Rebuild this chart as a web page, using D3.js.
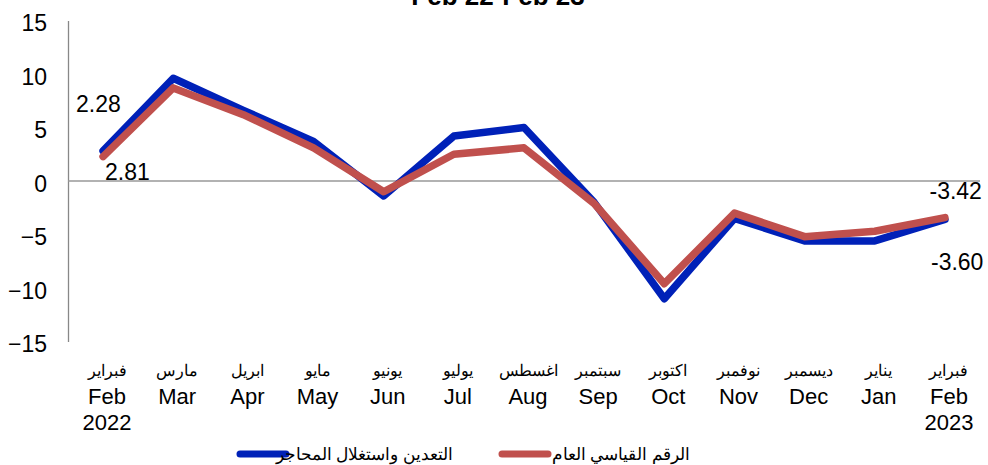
<!DOCTYPE html>
<html>
<head>
<meta charset="utf-8">
<script src="https://cdn.jsdelivr.net/npm/d3@7"></script>
<style>
  body { margin: 0; background: #fff; }
  text { font-family: "Liberation Sans", Arial, sans-serif; fill: #000; }
</style>
</head>
<body>
<div id="chart"></div>
<script>
const width = 988;
const height = 465;

// data
const monthsAr = ["فبراير", "مارس", "ابريل", "مايو", "يونيو", "يوليو", "اغسطس", "سبتمبر", "اكتوبر", "نوفمبر", "ديسمبر", "يناير", "فبراير"];
const monthsEn = ["Feb", "Mar", "Apr", "May", "Jun", "Jul", "Aug", "Sep", "Oct", "Nov", "Dec", "Jan", "Feb"];
const years = ["2022", "", "", "", "", "", "", "", "", "", "", "", "2023"];
const mining = [2.81, 9.6, 6.6, 3.7, -1.4, 4.2, 5.0, -2.0, -11.0, -3.5, -5.6, -5.6, -3.60];
const general = [2.28, 8.7, 6.2, 3.1, -1.0, 2.5, 3.1, -2.1, -9.6, -3.0, -5.2, -4.7, -3.42];
const yTicks = [15, 10, 5, 0, -5, -10, -15];
const seriesNames = ["التعدين واستغلال المحاجر", "الرقم القياسي العام"];

const blue = "#0021B8";
const red = "#C0504D";

const svg = d3.select("#chart")
  .append("svg")
  .attr("width", width)
  .attr("height", height);

const x = d3.scaleBand()
  .domain(d3.range(monthsEn.length))
  .range([68, 980]);

const y = d3.scaleLinear()
  .domain([-15, 15])
  .range([341.5, 20.5]);

// title (cut off at top like the original)
svg.append("text")
  .attr("x", 498)
  .attr("y", 5)
  .attr("text-anchor", "middle")
  .style("font-weight", "bold")
  .style("font-size", "26px")
  .text("Feb 22-Feb 23");

// y axis
svg.append("g")
  .attr("transform", "translate(68,0)")
  .call(d3.axisLeft(y).tickValues(yTicks).tickSize(0).tickPadding(21).tickFormat(d3.format("d")))
  .call(g => g.select(".domain").attr("stroke", "#888").attr("stroke-width", 1.3))
  .call(g => g.selectAll("text").style("font-size", "23px").attr("dy", "0.45em")
    .style("font-family", "'Liberation Sans', Arial, sans-serif"));

// zero line
svg.append("line")
  .attr("x1", 68)
  .attr("x2", 980)
  .attr("y1", y(0))
  .attr("y2", y(0))
  .attr("stroke", "#999")
  .attr("stroke-width", 1.3);

// x labels
const xl = svg.append("g").selectAll("g")
  .data(monthsEn)
  .join("g")
  .attr("transform", (d, i) => `translate(${x(i) + x.bandwidth() / 2 + 4},0)`);

xl.append("text")
  .attr("y", 376)
  .attr("text-anchor", "middle")
  .style("font-size", "16px")
  .text((d, i) => monthsAr[i]);

xl.append("text")
  .attr("y", 404)
  .attr("text-anchor", "middle")
  .style("font-size", "22px")
  .text(d => d);

xl.append("text")
  .attr("y", 430)
  .attr("text-anchor", "middle")
  .style("font-size", "22px")
  .text((d, i) => years[i]);

// lines
const line = d3.line()
  .x((d, i) => x(i) + x.bandwidth() / 2)
  .y(d => y(d));

svg.append("path")
  .datum(mining)
  .attr("d", line)
  .attr("fill", "none")
  .attr("stroke", blue)
  .attr("stroke-width", 7.5)
  .attr("stroke-linejoin", "round")
  .attr("stroke-linecap", "round");

svg.append("path")
  .datum(general)
  .attr("d", line)
  .attr("fill", "none")
  .attr("stroke", red)
  .attr("stroke-width", 7.5)
  .attr("stroke-linejoin", "round")
  .attr("stroke-linecap", "round");

// data labels
const first = 0, last = monthsEn.length - 1;
const cx = i => x(i) + x.bandwidth() / 2;

svg.append("text")
  .attr("x", cx(first) - 27)
  .attr("y", y(general[first]) - 45)
  .style("font-size", "23px")
  .text(general[first].toFixed(2));

svg.append("text")
  .attr("x", cx(first) + 2)
  .attr("y", y(mining[first]) + 29)
  .style("font-size", "23px")
  .text(mining[first].toFixed(2));

svg.append("text")
  .attr("x", cx(last) + 37)
  .attr("y", y(general[last]) - 19)
  .attr("text-anchor", "end")
  .style("font-size", "23px")
  .text(general[last].toFixed(2));

svg.append("text")
  .attr("x", cx(last) + 38.5)
  .attr("y", y(mining[last]) + 50)
  .attr("text-anchor", "end")
  .style("font-size", "23px")
  .text(mining[last].toFixed(2));

// legend
const legend = [
  { name: seriesNames[0], color: blue, x: 240, tx: 453 },
  { name: seriesNames[1], color: red, x: 502, tx: 690 }
];

svg.selectAll(".legLine")
  .data(legend)
  .join("line")
  .attr("x1", d => d.x)
  .attr("x2", d => d.x + 46)
  .attr("y1", 454)
  .attr("y2", 454)
  .attr("stroke", d => d.color)
  .attr("stroke-width", 7)
  .attr("stroke-linecap", "round");

svg.selectAll(".legText")
  .data(legend)
  .join("text")
  .attr("x", d => d.tx)
  .attr("y", 460)
  .attr("text-anchor", "end")
  .style("font-size", "17px")
  .text(d => d.name);
</script>
</body>
</html>
